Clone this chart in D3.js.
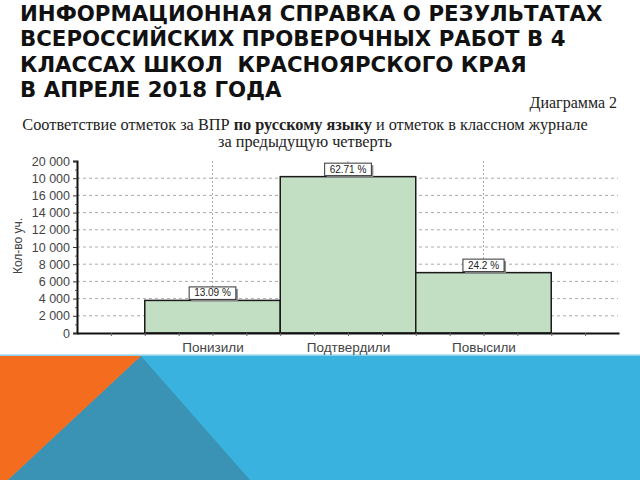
<!DOCTYPE html>
<html><head><meta charset="utf-8">
<script src="https://cdn.jsdelivr.net/npm/d3@7"></script>
<style>html,body{margin:0;padding:0;background:#fff;}svg{display:block;} text{white-space:pre;}</style>
</head><body>
<script>
const titleLines = ["ИНФОРМАЦИОННАЯ СПРАВКА О РЕЗУЛЬТАТАХ","ВСЕРОССИЙСКИХ ПРОВЕРОЧНЫХ РАБОТ В 4","КЛАССАХ ШКОЛ  КРАСНОЯРСКОГО КРАЯ","В АПРЕЛЕ 2018 ГОДА"];
const categories = ["Понизили","Подтвердили","Повысили"];
const values = [3790, 18180, 7020];
const percentLabels = ["13.09 %","62.71 %","24.2 %"];
const yTicks = [0,2000,4000,6000,8000,10000,12000,14000,16000,18000,20000];
const yTickLabels = ["0","2 000","4 000","6 000","8 000","10 000","12 000","14 000","16 000","10 000","20 000"];
const yLabel = "Кол-во уч.";
const diagramLabel = "Диаграмма 2";

const W = 640, H = 480;
const svg = d3.select("body").append("svg").attr("width", W).attr("height", H);

// background decoration
svg.append("rect").attr("x",0).attr("y",355).attr("width",W).attr("height",H-355).attr("fill","#3AB2DF");
svg.append("line").attr("x1",0).attr("x2",W).attr("y1",355).attr("y2",355).attr("stroke","#A8DDF0").attr("stroke-width",1.5);
svg.append("path").attr("d","M141,356 L8,480 L250,480 Z").attr("fill","#3A93B4");
svg.append("path").attr("d","M0,356 L141,356 L8,480 L0,480 Z").attr("fill","#F46C1E");

// title
const tg = svg.append("g").attr("font-family","'DejaVu Sans', sans-serif").attr("font-weight","bold").attr("font-size",21.3).attr("fill","#111");
titleLines.forEach((t,i)=>{
  tg.append("text").attr("x",20).attr("y",21+i*25.3).text(t);
});

svg.append("text").attr("x",617).attr("y",108).attr("text-anchor","end")
  .attr("font-family","'Liberation Serif', serif").attr("font-size",16).attr("fill","#222").text(diagramLabel);

const ct = svg.append("text").attr("x",305).attr("y",130).attr("text-anchor","middle")
  .attr("font-family","'Liberation Serif', serif").attr("font-size",16.3).attr("fill","#222");
ct.append("tspan").text("Соответствие отметок за ВПР ");
ct.append("tspan").attr("font-weight","bold").text("по русскому языку");
ct.append("tspan").text(" и отметок в классном журнале");
svg.append("text").attr("x",305).attr("y",147).attr("text-anchor","middle")
  .attr("font-family","'Liberation Serif', serif").attr("font-size",16.3).attr("fill","#222").text("за предыдущую четверть");

// scales
const x = d3.scaleLinear().domain([0,4]).range([77,619]);
const y = d3.scaleLinear().domain([0,20000]).range([333,161]);

// gridlines
svg.append("g").selectAll("line").data(yTicks.filter(v=>v>0 && v<20000)).join("line")
  .attr("x1",x(0)).attr("x2",618).attr("y1",d=>y(d)).attr("y2",d=>y(d))
  .attr("stroke","#aaa").attr("stroke-dasharray","3,3").attr("stroke-width",1);
svg.append("g").selectAll("line").data(categories).join("line")
  .attr("x1",(d,i)=>x(i+1)).attr("x2",(d,i)=>x(i+1)).attr("y1",y(20000)).attr("y2",(d,i)=>y(values[i]))
  .attr("stroke","#aaa").attr("stroke-dasharray","2,2").attr("stroke-width",1);

// bars
svg.append("g").selectAll("rect").data(values).join("rect")
  .attr("x",(d,i)=>x(i+0.5)).attr("width",(d,i)=>x(i+1.5)-x(i+0.5))
  .attr("y",d=>y(d)).attr("height",d=>y(0)-y(d))
  .attr("fill","#C2DEC3").attr("stroke","#1a1a1a").attr("stroke-width",1.5);

// y axis
const ya = svg.append("g").attr("transform",`translate(${x(0)},0)`)
  .call(d3.axisLeft(y).tickValues(yTicks).tickFormat((d,i)=>yTickLabels[i]).tickSize(4).tickPadding(3));
ya.select(".domain").attr("stroke","#111").attr("stroke-width",2);
ya.selectAll(".tick line").attr("stroke","#333");
ya.selectAll("text").attr("font-family","'Liberation Sans', Arial, sans-serif").attr("font-size",12.5).attr("fill","#444");
svg.append("g").attr("transform",`translate(${x(0)},0)`)
  .call(d3.axisLeft(y).tickValues(d3.range(1000,20000,2000)).tickFormat("").tickSize(2))
  .call(g=>g.select(".domain").remove()).selectAll("line").attr("stroke","#555");

// x axis
const xa = svg.append("g").attr("transform",`translate(0,${y(0)})`)
  .call(d3.axisBottom(x).tickValues(d3.range(0.25,4,0.25)).tickFormat("").tickSize(3).tickSizeOuter(0));
xa.select(".domain").attr("stroke","#111").attr("stroke-width",2);
xa.selectAll(".tick line").attr("stroke","#666");
const xl = svg.append("g").attr("transform",`translate(0,${y(0)})`)
  .call(d3.axisBottom(x).tickValues([1,2,3]).tickFormat((d,i)=>categories[i]).tickSize(0).tickPadding(9));
xl.select(".domain").remove();
xl.selectAll("text").attr("font-family","'Liberation Sans', Arial, sans-serif").attr("font-size",13.5).attr("fill","#444");

svg.append("text").attr("transform","translate(22,246) rotate(-90)").attr("text-anchor","middle")
  .attr("font-family","'Liberation Sans', Arial, sans-serif").attr("font-size",12).attr("fill","#444").text(yLabel);

// percent labels
const lg = svg.append("g").selectAll("g").data(values).join("g")
  .attr("transform",(d,i)=>`translate(${x(i+1)},${y(d)})`);
lg.each(function(d,i){
  const g = d3.select(this);
  const shadow = g.append("rect").attr("fill","#8a8a8a");
  const box = g.append("rect").attr("fill","#fff").attr("stroke","#333").attr("stroke-width",1);
  const t = g.append("text").attr("y",-4).attr("text-anchor","middle")
    .attr("font-family","'Liberation Sans', Arial, sans-serif").attr("font-size",10).attr("fill","#222")
    .text(percentLabels[i]);
  const w = t.node().getComputedTextLength() + 10;
  box.attr("x",-w/2).attr("y",-13.5).attr("width",w).attr("height",12.5);
  shadow.attr("x",-w/2+2).attr("y",-11.5).attr("width",w).attr("height",12.5);
});
</script>
</body></html>
